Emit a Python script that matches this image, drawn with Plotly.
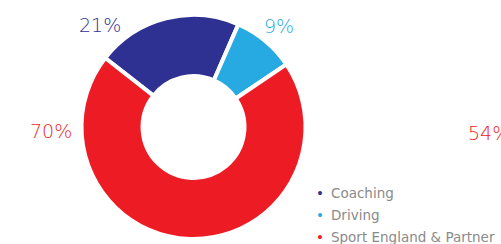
import plotly.graph_objects as go

categories = ["Coaching", "Driving", "Sport England & Partner"]
values = [21, 9, 70]
colors = ["#2E3192", "#27AAE1", "#ED1C24"]
other_value = 54  # partially visible neighbour chart label

W, H = 501, 244
FONT = "DejaVu Sans"
fig = go.Figure()
fig.add_trace(go.Pie(
    labels=categories, values=values, sort=False, direction="clockwise",
    rotation=-52, hole=0.455, textinfo="none", hoverinfo="label+percent",
    marker=dict(colors=colors, line=dict(color="white", width=4)),
    domain=dict(x=[81.5 / W, 305.5 / W], y=[5 / H, 229 / H]),
    showlegend=False,
))

label_pos = [(100, 25), (279, 26), (51, 131)]
for v, col, (px, py) in zip(values, colors, label_pos):
    fig.add_annotation(text=f"{v}%", x=px / W, y=1 - py / H, xref="paper", yref="paper",
                       showarrow=False, xanchor="center", yanchor="middle",
                       font=dict(family=FONT, size=19, color=col, weight=300))
fig.add_annotation(text=f"{other_value}%", x=466 / W, y=1 - 133 / H, xref="paper", yref="paper",
                   showarrow=False, xanchor="left", yanchor="middle",
                   font=dict(family=FONT, size=19, color=colors[2], weight=300))

legend_y = [192.5, 214.5, 237]
for c, col, py in zip(categories, colors, legend_y):
    fig.add_annotation(text=f"<span style='color:{col}'>•</span>\u2009 {c}",
                       x=314 / W, y=1 - py / H, xref="paper", yref="paper",
                       showarrow=False, xanchor="left", yanchor="middle",
                       font=dict(family=FONT, size=13.5, color="#8a8a8a"))

fig.update_layout(
    width=W, height=H, margin=dict(l=0, r=0, t=0, b=0),
    paper_bgcolor="white", plot_bgcolor="white", showlegend=False,
)
fig.write_html("out.html", config={"displayModeBar": False},
               post_script="document.body.style.margin='0';")
